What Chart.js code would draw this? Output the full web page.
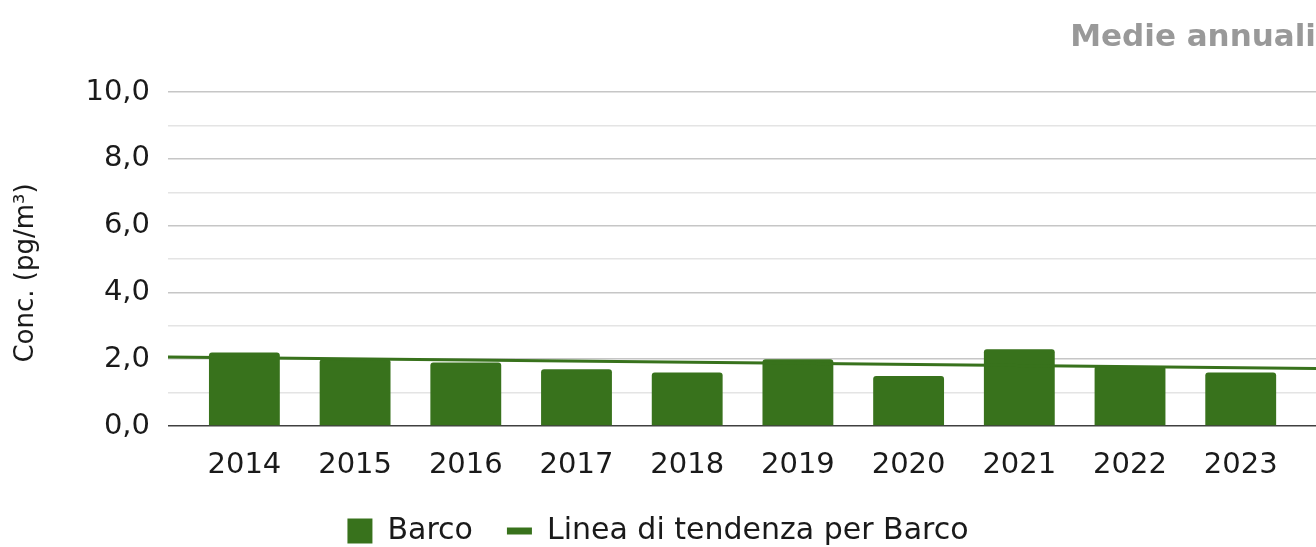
<!DOCTYPE html>
<html>
<head>
<meta charset="utf-8">
<script src="https://cdn.jsdelivr.net/npm/chart.js@4"></script>
<style>
  html, body { margin: 0; padding: 0; background: #fff; }
  #wrap { width: 1316px; height: 547px; }
</style>
</head>
<body>
<div id="wrap"><canvas id="chart" width="1316" height="547"></canvas></div>
<script>
// Data
const years = [2014, 2015, 2016, 2017, 2018, 2019, 2020, 2021, 2022, 2023];
const barco = [2.2, 2.0, 1.9, 1.7, 1.6, 2.0, 1.5, 2.3, 1.8, 1.6];
const trendX = [2013.31, 2023.68];
const trendY = [2.07, 1.72];

const green = "#38721c";
const font = "DejaVu Sans";
const yTitle = "Conc. (pg/m³)";
const fmt = (v) => v.toFixed(1).replace(".", ",");

// y axis title, drawn a bit below the middle like the original
const yTitlePlugin = {
    id: "yTitle",
    afterDraw(chart) {
        const c = chart.ctx;
        c.save();
        c.translate(26, 273);
        c.rotate(-Math.PI / 2);
        c.font = `26px "${font}"`;
        c.fillStyle = "#1a1a1a";
        c.textAlign = "center";
        c.textBaseline = "middle";
        c.fillText(yTitle, 0, 0);
        c.restore();
    }
};

const ctx = document.getElementById("chart").getContext("2d");
new Chart(ctx, {
    type: "bar",
    data: {
        datasets: [{
            label: "Barco",
            data: years.map((y, i) => ({ x: y, y: barco[i] })),
            backgroundColor: green,
            borderRadius: 3,
            borderSkipped: "bottom",
            categoryPercentage: 1,
            barPercentage: 0.64,
            order: 2
        }, {
            type: "line",
            label: "Linea di tendenza per Barco",
            data: trendX.map((x, i) => ({ x: x, y: trendY[i] })),
            borderColor: green,
            borderWidth: 3,
            pointRadius: 0,
            order: 1
        }]
    },
    plugins: [yTitlePlugin],
    options: {
        responsive: false,
        animation: false,
        layout: { padding: { top: 0, right: 0, bottom: -9, left: 0 } },
        plugins: {
            title: {
                display: true,
                text: "Medie annuali",
                align: "end",
                color: "#999999",
                font: { family: font, size: 31, weight: "bold" },
                padding: { top: 19, bottom: 36 }
            },
            legend: {
                position: "bottom",
                labels: {
                    usePointStyle: true,
                    pointStyleWidth: 25,
                    boxHeight: 25,
                    boxWidth: 25,
                    padding: 34,
                    color: "#1a1a1a",
                    font: { family: font, size: 30 },
                    generateLabels: (chart) => chart.data.datasets.map((ds, i) => ({
                        text: ds.label,
                        datasetIndex: i,
                        fillStyle: green,
                        strokeStyle: green,
                        lineWidth: i === 0 ? 0 : 7,
                        pointStyle: i === 0 ? "rect" : "line",
                        fontColor: "#1a1a1a"
                    }))
                }
            },
            tooltip: { enabled: false }
        },
        scales: {
            x: {
                type: "linear",
                offset: false,
                min: 2013.31,
                max: 2023.68,
                afterBuildTicks: (scale) => { scale.ticks = years.map(v => ({ value: v })); },
                afterFit: (scale) => { scale.height = 56; },
                grid: { display: false, drawTicks: false },
                border: { display: false },
                ticks: {
                    padding: 22,
                    autoSkip: false,
                    maxRotation: 0,
                    color: "#1a1a1a",
                    font: { family: font, size: 29 },
                    callback: (v) => String(v)
                }
            },
            y: {
                min: 0,
                max: 10,
                afterFit: (scale) => { scale.width = 168; },
                grid: {
                    drawTicks: false,
                    lineWidth: 1.5,
                    color: (c) => c.tick.value === 0 ? "#404040" : (c.tick.value % 2 === 0 ? "#c6c6c6" : "#e4e4e4")
                },
                border: { display: false },
                ticks: {
                    stepSize: 1,
                    autoSkip: false,
                    padding: 18,
                    color: "#1a1a1a",
                    font: { family: font, size: 29 },
                    callback: (v) => v % 2 === 0 ? fmt(v) : ""
                }
            }
        }
    }
});
</script>
</body>
</html>
